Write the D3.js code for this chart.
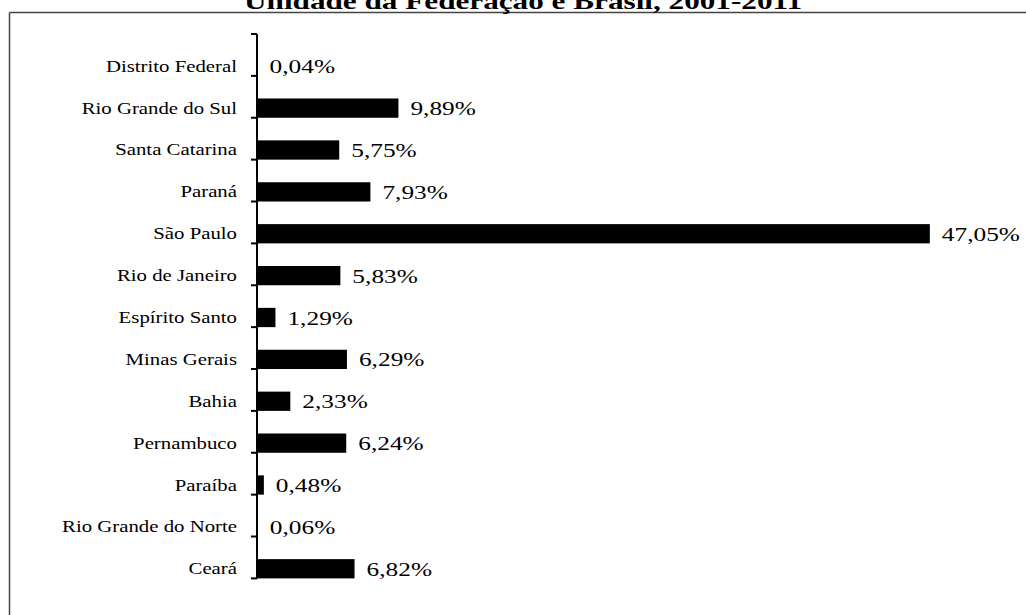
<!DOCTYPE html>
<html>
<head>
<meta charset="utf-8">
<script src="https://cdn.jsdelivr.net/npm/d3@7"></script>
<style>
  html, body { margin: 0; padding: 0; background: #fff; }
  svg { display: block; }
</style>
</head>
<body>
<svg id="chart"></svg>
<script>
// estados, de cima para baixo
const states = [
  'Distrito Federal', 'Rio Grande do Sul', 'Santa Catarina', 'Paraná',
  'São Paulo', 'Rio de Janeiro', 'Espírito Santo', 'Minas Gerais',
  'Bahia', 'Pernambuco', 'Paraíba', 'Rio Grande do Norte', 'Ceará'
];
const shares = [0.04, 9.89, 5.75, 7.93, 47.05, 5.83, 1.29, 6.29, 2.33, 6.24, 0.48, 0.06, 6.82];
const titleText = 'Unidade da Federação e Brasil, 2001-2011';

const width = 1026, height = 615;
const stretch = 1.3; // o texto do original está esticado na horizontal
const serif = "'Liberation Serif', 'Times New Roman', Tinos, 'DejaVu Serif', serif";
const svg = d3.select('#chart').attr('width', width).attr('height', height);

const x = d3.scaleLinear().domain([0, 50]).range([257, 972]);
const y = d3.scaleBand().domain(states).range([34, 601]).padding(0.54);

// moldura (só topo e esquerda aparecem)
svg.append('line')
  .attr('x1', 9.5).attr('x2', width).attr('y1', 12.5).attr('y2', 12.5)
  .attr('stroke', '#444').attr('stroke-width', 1.5);
svg.append('line')
  .attr('x1', 9.5).attr('x2', 9.5).attr('y1', 12.5).attr('y2', height)
  .attr('stroke', '#444').attr('stroke-width', 1.5);

// título (cortado no topo, como no original)
svg.append('text')
  .attr('transform', `translate(523,9) scale(${stretch},1)`)
  .attr('text-anchor', 'middle')
  .style('font-family', serif)
  .attr('font-weight', 'bold')
  .attr('font-size', 24)
  .text(titleText);

// barras
svg.selectAll('rect.bar')
  .data(states)
  .join('rect')
  .attr('class', 'bar')
  .attr('x', x(0))
  .attr('y', d => y(d))
  .attr('width', (d, i) => x(shares[i]) - x(0))
  .attr('height', y.bandwidth())
  .attr('fill', '#000');

// rótulos de valor
svg.selectAll('text.val')
  .data(states)
  .join('text')
  .attr('class', 'val')
  .attr('transform', (d, i) => `translate(${x(shares[i]) + 12},${y(d) + y.bandwidth() / 2 + 7}) scale(${stretch},1)`)
  .style('font-family', serif)
  .attr('font-size', 19.5)
  .text((d, i) => shares[i].toFixed(2).replace('.', ',') + '%');

// eixo vertical com marcas nas divisões das categorias
const step = y.step();
const y0 = y.range()[0];
const axis = svg.append('g');
axis.append('line')
  .attr('x1', x(0)).attr('x2', x(0))
  .attr('y1', y0).attr('y2', y0 + step * states.length)
  .attr('stroke', '#000').attr('stroke-width', 2);
axis.selectAll('line.tick')
  .data(d3.range(states.length + 1))
  .join('line')
  .attr('class', 'tick')
  .attr('x1', x(0) - 6).attr('x2', x(0))
  .attr('y1', i => y0 + i * step).attr('y2', i => y0 + i * step)
  .attr('stroke', '#000').attr('stroke-width', 2);

axis.selectAll('text.cat')
  .data(states)
  .join('text')
  .attr('class', 'cat')
  .attr('transform', d => `translate(237,${y(d) + y.bandwidth() / 2 + 5.5}) scale(${stretch},1)`)
  .attr('text-anchor', 'end')
  .style('font-family', serif)
  .attr('font-size', 16)
  .text(d => d);
</script>
</body>
</html>
